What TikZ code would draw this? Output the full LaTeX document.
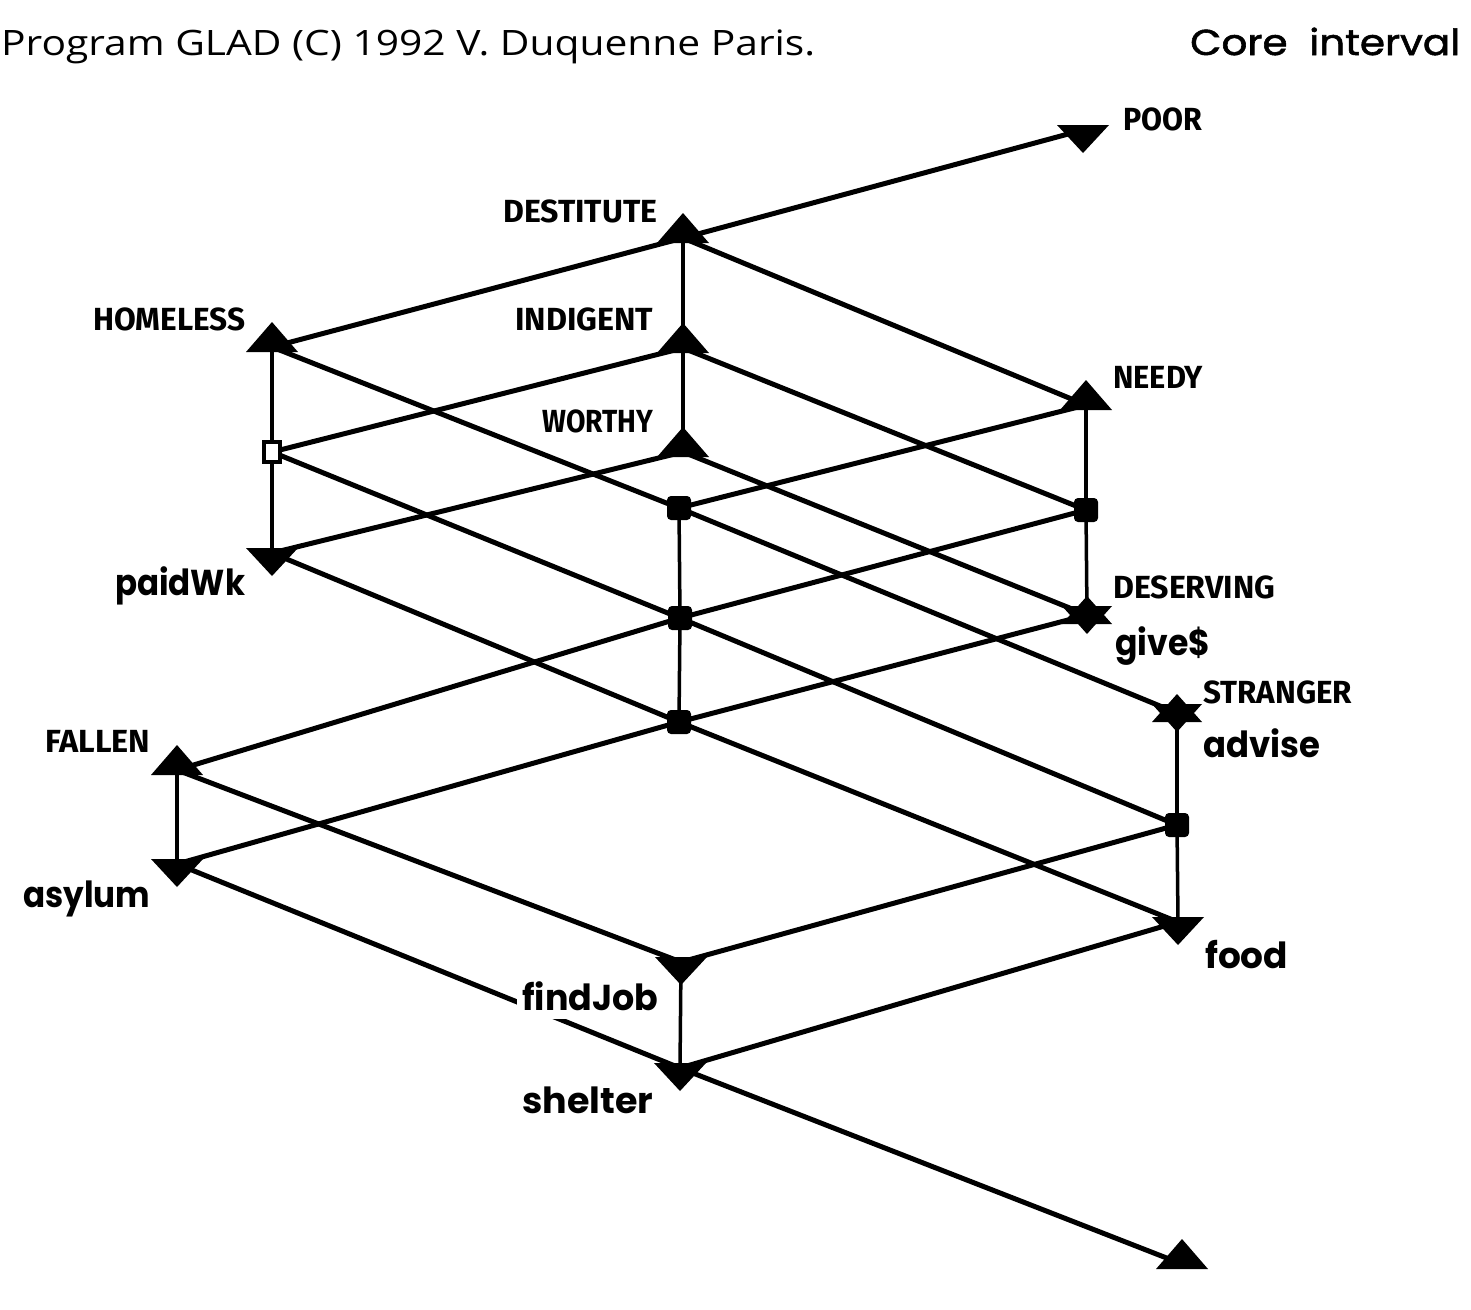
\documentclass[tikz,border=0pt]{standalone}
\usepackage{fontspec}
\usepackage{graphicx}
\newfontfamily\hdrfont{Open Sans}
\newfontfamily\capfont{Fira Sans}
\newfontfamily\lowfont{Poppins}
\newfontfamily\corefont{Poppins}[FakeBold=1.5]
\newcommand\fw[2]{\resizebox{#1pt}{\height}{#2}}
\tikzset{
  edge/.style={line width=5pt, line cap=round},
  vedge/.style={line width=3.5pt},
  caplab/.style={anchor=base west, inner sep=0pt, font=\capfont\bfseries\fontsize{32}{36}\selectfont},
  lowlab/.style={anchor=base west, inner sep=0pt, font=\lowfont\bfseries\fontsize{36}{40}\selectfont},
  uptri/.pic={\fill (0,-25) -- (26,5) -- (-26,5) -- cycle;},
  dntri/.pic={\fill (0,23) -- (26,-5) -- (-26,-5) -- cycle;},
  hexstar/.pic={\fill (0,-19) -- (25,9) -- (-25,9) -- cycle; \fill (0,19) -- (25,-9) -- (-25,-9) -- cycle;},
  blk/.pic={\fill[rounded corners=4pt] (-12,-12) rectangle (12,12);},
  opensq/.pic={\draw[line width=3.5pt, fill=white] (-8,-10) rectangle (8,10);},
}
\begin{document}
\begin{tikzpicture}[x=1pt,y=-1pt]
\useasboundingbox[fill=white] (0,0) rectangle (1471,1309);
% lattice points
\coordinate (POOR) at (1083,130);
\coordinate (D) at (683,238);
\coordinate (INDIG) at (683,348);
\coordinate (WORTHY) at (683,452);
\coordinate (HOMELESS) at (272,347);
\coordinate (L1) at (272,452);
\coordinate (PAID) at (272,553);
\coordinate (NEEDY) at (1086,405);
\coordinate (R1) at (1086,510);
\coordinate (DESERV) at (1087,615);
\coordinate (C1) at (679,508);
\coordinate (C2) at (680,618);
\coordinate (C3) at (679,722);
\coordinate (STRANGER) at (1177,713);
\coordinate (R2) at (1177,825);
\coordinate (FOOD) at (1178,922);
\coordinate (FALLEN) at (177,770);
\coordinate (ASYLUM) at (177,864);
\coordinate (FINDJOB) at (681,962);
\coordinate (SHELTER) at (680,1068);
\coordinate (BOT) at (1182,1264);
% diagonal edges
\draw[edge] (D) -- (POOR);
\draw[edge] (D) -- (HOMELESS);
\draw[edge] (D) -- (NEEDY);
\draw[edge] (INDIG) -- (L1);
\draw[edge] (INDIG) -- (R1);
\draw[edge] (HOMELESS) -- (C1);
\draw[edge] (NEEDY) -- (C1);
\draw[edge] (WORTHY) -- (PAID);
\draw[edge] (WORTHY) -- (DESERV);
\draw[edge] (L1) -- (C2);
\draw[edge] (R1) -- (C2);
\draw[edge] (PAID) -- (C3);
\draw[edge] (DESERV) -- (C3);
\draw[edge] (C1) -- (STRANGER);
\draw[edge] (C2) -- (R2);
\draw[edge] (C2) -- (FALLEN);
\draw[edge] (C3) -- (ASYLUM);
\draw[edge] (C3) -- (FOOD);
\draw[edge] (FALLEN) -- (FINDJOB);
\draw[edge] (ASYLUM) -- (SHELTER);
\draw[edge] (FINDJOB) -- (R2);
\draw[edge] (SHELTER) -- (FOOD);
\draw[edge] (SHELTER) -- (BOT);
% vertical edges
\draw[vedge] (D) -- (INDIG);
\draw[vedge] (INDIG) -- (WORTHY);
\draw[vedge] (HOMELESS) -- (L1);
\draw[vedge] (L1) -- (PAID);
\draw[vedge] (NEEDY) -- (R1);
\draw[vedge] (R1) -- (DESERV);
\draw[vedge] (C1) -- (C2);
\draw[vedge] (C2) -- (C3);
\draw[vedge] (STRANGER) -- (R2);
\draw[vedge] (R2) -- (FOOD);
\draw[vedge] (FALLEN) -- (ASYLUM);
\draw[vedge] (FINDJOB) -- (SHELTER);
% symbols
\pic at (D) {uptri};
\pic at (INDIG) {uptri};
\pic at (WORTHY) {uptri};
\pic at (HOMELESS) {uptri};
\pic at (NEEDY) {uptri};
\pic at (FALLEN) {uptri};
\pic at (BOT) {uptri};
\pic at (POOR) {dntri};
\pic at (PAID) {dntri};
\pic at (ASYLUM) {dntri};
\pic at (FINDJOB) {dntri};
\pic at (SHELTER) {dntri};
\pic at (FOOD) {dntri};
\pic at (DESERV) {hexstar};
\pic at (STRANGER) {hexstar};
\pic at (L1) {opensq};
\pic at (C1) {blk};
\pic at (C2) {blk};
\pic at (C3) {blk};
\pic at (R1) {blk};
\pic at (R2) {blk};
% labels
\node[caplab] (lPOOR) at (1123,130) {\fw{79}{POOR}};
\node[caplab] (lD) at (503,222) {\fw{154}{DESTITUTE}};
\node[caplab] (lH) at (93,330) {\fw{152}{HOMELESS}};
\node[caplab] (lI) at (515,330) {\fw{138}{INDIGENT}};
\node[caplab] (lW) at (542,432) {\fw{111}{WORTHY}};
\node[caplab] (lN) at (1113,388) {\fw{90}{NEEDY}};
\node[caplab] (lDS) at (1113,598) {\fw{162}{DESERVING}};
\node[caplab] (lS) at (1203,703) {\fw{149}{STRANGER}};
\node[caplab] (lF) at (45,752) {\fw{105}{FALLEN}};
\node[lowlab] (lP) at (115,595) {\fw{130}{paidWk}};
\node[lowlab] (lG) at (1115,655) {\fw{95}{give\$}};
\node[lowlab] (lA) at (1203,757) {\fw{117}{advise}};
\node[lowlab] (lAS) at (23,907) {\fw{127}{asylum}};
\node[lowlab, fill=white, inner xsep=5pt, inner ysep=9pt] (lFJ) at (517,1010) {\fw{136}{findJob}};
\node[lowlab] (lSH) at (522,1113) {\fw{131}{shelter}};
\node[lowlab] (lFO) at (1205,968) {\fw{83}{food}};
% header
\node[anchor=base west, inner sep=0pt, font=\hdrfont\fontsize{35}{40}\selectfont] (title) at (1,55) {\fw{814}{Program GLAD (C) 1992 V. Duquenne Paris.}};
\node[anchor=base west, inner sep=0pt, font=\corefont\fontsize{36}{40}\selectfont] (core) at (1190,55) {\fw{270}{Core\ \ interval}};
\end{tikzpicture}
\end{document}
